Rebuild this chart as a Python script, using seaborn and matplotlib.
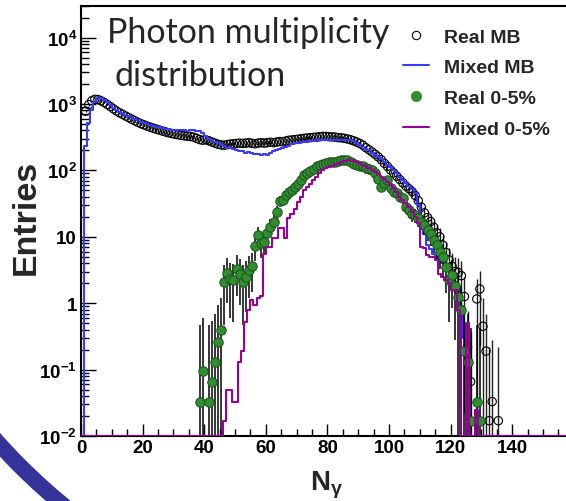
import numpy as np
import pandas as pd
import matplotlib
matplotlib.use("Agg")
import matplotlib.pyplot as plt
import seaborn as sns
from matplotlib.ticker import FixedLocator, FixedFormatter, MultipleLocator, LogLocator, NullFormatter
from matplotlib.patches import Arc
from matplotlib.lines import Line2D
from matplotlib.font_manager import FontProperties

# ---------------- data ----------------
# bin contents, integer bins of width 1 (bin i covers [i, i+1))
real_mb_start = 1
real_mb = [780, 980, 1120, 1180, 1170, 1120, 1060, 990, 920, 850,
           790, 740, 700, 660, 625, 590, 560, 530, 505, 485,
           465, 448, 432, 418, 405, 392, 380, 368, 360, 352,
           345, 338, 332, 328, 325, 318, 305, 292, 285, 290,
           280, 268, 258, 248, 242, 240, 245, 250, 252, 255,
           258, 255, 258, 262, 256, 252, 258, 262, 258, 262,
           266, 262, 268, 272, 270, 278, 285, 288, 292, 296,
           300, 305, 308, 312, 315, 318, 322, 326, 325, 322,
           320, 318, 312, 310, 305, 298, 290, 280, 268, 255,
           240, 220, 205, 190, 175, 160, 145, 128, 115, 102,
           92, 82, 73, 65, 58, 53, 48, 42, 35, 28,
           23, 19.5, 17, 14, 11.5, 10, 7.5, 5.8, 4.5, 3.6,
           3.0, 2.9, 2.6, 1.26, 0.22, 0.066, np.nan, 1.16, 1.64, 0.45,
           0.19, 0.017, 0.033, np.nan, 0.017]

mixed_mb_start = 0
mixed_mb = [0,
            230, 515, 815, 1090, 1230, 1230, 1150, 1060, 960, 880,
            820, 770, 720, 690, 660, 630, 600, 570, 545, 520,
            500, 482, 468, 455, 445, 435, 425, 418, 412, 410,
            408, 405, 400, 398, 400, 405, 395, 390, 370, 330,
            300, 285, 268, 255, 240, 230, 220, 215, 210, 205,
            198, 193, 185, 188, 184, 180, 175, 172, 175, 168,
            182, 195, 200, 210, 218, 225, 235, 248, 255, 262,
            268, 270, 275, 280, 282, 285, 288, 290, 290, 292,
            290, 288, 292, 290, 288, 290, 285, 278, 262, 245,
            228, 212, 200, 185, 172, 160, 148, 135, 122, 112,
            100, 90, 80, 72, 64, 58, 52, 45, 30, 16,
            11, 7.6, 6.5, 5.5, 5.0, 4.5, 4.0, 3.5, 3.2, 2.6,
            2.1, 1.8, 0.9, 0.3]

real_cent_start = 38
real_cent = [0.033, 0.095, np.nan, 0.033, 0.066, 0.13, 0.26, 0.40,
             2.1, 2.9, 2.3, 2.2, 3.3, 2.8, 2.1, 2.5, 3.2, 3.6,
             7.3, 10.7, 8.0, 8.5, 11.5, 14.3, 17, 24, 35, 36,
             42, 48, 50, 57, 63, 72, 86, 91, 97, 105,
             115, 120, 125, 129, 132, 135, 136, 140, 142, 145,
             143, 135, 125, 122, 118, 115, 108, 105, 102, 90,
             75, 57, 65, 72, 55, 48, 45, 40, 38, 28,
             25, 22, 21.5, 19, 17, 15, 12.7, 11, 9, 7.5,
             6, 5, 3.5, 2.2, 2.7, 1.8, 1.26, 0.79, 0.19, 0.13,
             0.017, np.nan, 0.033, 0.017]

mixed_cent_start = 46
mixed_cent = [0.017, 0.05, 0.05, 0.033, 0.033, 0.13, 0.19, 0.53, 0.79, 1.1,
              0.95, 1.2, 1.3, 5.5, 7.1, 7.1, 9.5, 9.5, 13.5, 13.5,
              9.5, 19, 22, 26, 33, 40, 50, 56, 63, 72,
              80, 92, 100, 108, 112, 118, 125, 130, 136, 140,
              143, 145, 140, 135, 129, 122, 115, 110, 100, 95,
              88, 80, 75, 68, 61, 55, 48, 40, 36, 32,
              28, 24, 20, 16, 7.1, 6.7, 5.3, 5.0, 5.0,
              4.5, 2.8, 2.5, 2.2, 2.0, 1.6, 1.6, 0.8, 0, 0,
              0.5, 0, 0, 0.025, 0]

series_labels = ["Real MB", "Mixed MB", "Real 0-5%", "Mixed 0-5%"]
x_tick_values = [0, 20, 40, 60, 80, 100, 120, 140]
y_tick_values = [1e-2, 1e-1, 1, 10, 1e2, 1e3, 1e4]
y_tick_labels = [r"$10^{-2}$", r"$10^{-1}$", "1", "10", r"$10^{2}$", r"$10^{3}$", r"$10^{4}$"]
title_lines = ["Photon multiplicity", "distribution"]

# ---------------- style ----------------
W, H = 566, 502
NB = 160
XMAX = 160
YMIN, YMAX = 1e-2, 3.0e4

sns.set_style("ticks")
plt.rcParams["font.family"] = ["Liberation Sans", "DejaVu Sans"]
plt.rcParams["font.weight"] = "bold"
plt.rcParams["mathtext.fontset"] = "custom"
plt.rcParams["mathtext.rm"] = "Liberation Sans:bold"
plt.rcParams["mathtext.it"] = "Liberation Sans:bold"
plt.rcParams["mathtext.bf"] = "Liberation Sans:bold"
plt.rcParams["mathtext.default"] = "rm"

BLUE = "#3a3aff"
PURPLE = "#990099"
GREEN = "#2f8f2f"
GREEN_EDGE = "#1d4d1d"

fig = plt.figure(figsize=(W / 100, H / 100), dpi=100)
fig.patch.set_facecolor("white")

ax_left, ax_bottom = 81, 65
ax_w = 3.08 * XMAX
ax_h = 430
ax = fig.add_axes([ax_left / W, ax_bottom / H, ax_w / W, ax_h / H])
ax.set_facecolor("none")


def full_hist(start, vals):
    arr = np.zeros(NB)
    v = np.nan_to_num(np.asarray(vals, dtype=float), nan=0.0)
    arr[start:start + len(v)] = v
    return arr


def step_frame(start, vals):
    h = full_hist(start, vals)
    h = np.where(h > 0, h, YMIN)
    edges = np.arange(NB + 1)
    y = np.append(h, h[-1])
    return pd.DataFrame({"x": edges, "y": y})


def point_frame(start, vals, c):
    v = np.asarray(vals, dtype=float)
    n = np.arange(start, start + len(v))
    df = pd.DataFrame({"x": n + 0.5, "y": v}).dropna()
    err = np.sqrt(1.2 * df["y"].values + c)
    lo = np.minimum(err, df["y"].values - 1e-4)
    df["lo"] = lo
    df["hi"] = err
    return df


mb_pts = point_frame(real_mb_start, real_mb, 0.02)
cent_pts = point_frame(real_cent_start, real_cent, 0.15)

# Real MB: open circles with error bars
ax.errorbar(mb_pts["x"], mb_pts["y"], yerr=[mb_pts["lo"], mb_pts["hi"]],
            fmt="none", ecolor="#222222", elinewidth=1.0, capsize=0, zorder=2)
sns.scatterplot(data=mb_pts, x="x", y="y", ax=ax, marker="o", s=36,
                facecolor="none", edgecolor="black", linewidth=0.8, zorder=3)

# Mixed MB: blue step histogram
sns.lineplot(data=step_frame(mixed_mb_start, mixed_mb), x="x", y="y", ax=ax,
             drawstyle="steps-post", color=BLUE, linewidth=1.5, estimator=None,
             sort=False, zorder=4)

# Real 0-5%: green filled circles with error bars
ax.errorbar(cent_pts["x"], cent_pts["y"], yerr=[cent_pts["lo"], cent_pts["hi"]],
            fmt="none", ecolor="black", elinewidth=1.1, capsize=0, zorder=5)
sns.scatterplot(data=cent_pts, x="x", y="y", ax=ax, marker="o", s=46,
                color=GREEN, edgecolor=GREEN_EDGE, linewidth=0.7, zorder=6)

# Mixed 0-5%: purple step histogram
sns.lineplot(data=step_frame(mixed_cent_start, mixed_cent), x="x", y="y", ax=ax,
             drawstyle="steps-post", color=PURPLE, linewidth=1.5, estimator=None,
             sort=False, zorder=7)

# ---------------- axes ----------------
ax.set_yscale("log")
ax.set_xlim(0, XMAX)
ax.set_ylim(YMIN, YMAX)
ax.xaxis.set_major_locator(FixedLocator(x_tick_values))
ax.xaxis.set_minor_locator(MultipleLocator(5))
ax.yaxis.set_major_locator(FixedLocator(y_tick_values))
ax.yaxis.set_major_formatter(FixedFormatter(y_tick_labels))
ax.yaxis.set_minor_locator(LogLocator(base=10, subs=np.arange(2, 10), numticks=20))
ax.yaxis.set_minor_formatter(NullFormatter())
ax.tick_params(axis="both", which="both", direction="in", top=False, right=False,
               labelsize=13.5, colors="black", width=1.0)
ax.tick_params(axis="y", which="major", length=11, pad=3)
ax.tick_params(axis="y", which="minor", length=6)
ax.tick_params(axis="x", which="major", length=9, pad=2)
ax.tick_params(axis="x", which="minor", length=4.7)
for sp in ["left", "bottom", "top"]:
    ax.spines[sp].set_linewidth(1.5)
    ax.spines[sp].set_color("black")
ax.spines["right"].set_visible(False)

ax.set_xlabel(r"N$_{\gamma}$", fontsize=20, fontweight="bold")
ax.xaxis.set_label_coords((327 - ax_left) / ax_w, -0.075)
ax.set_ylabel("Entries", fontsize=24.5, fontweight="bold")
ax.yaxis.set_label_coords(-0.08, 0.51)

# ---------------- legend ----------------
handles = [
    Line2D([], [], ls="none", marker="o", ms=6, mfc="none", mec="black", mew=0.8),
    Line2D([], [], color=BLUE, lw=1.5),
    Line2D([], [], ls="none", marker="o", ms=7.5, mfc=GREEN, mec=GREEN, mew=0.5),
    Line2D([], [], color=PURPLE, lw=1.5),
]
ax.legend(handles, series_labels, loc="upper left",
          bbox_to_anchor=(403 / W, 1 - 29 / H), bbox_transform=fig.transFigure,
          frameon=False, borderpad=0, borderaxespad=0, handlelength=1.35,
          handletextpad=0.75, labelspacing=0.67,
          prop=FontProperties(family="Liberation Sans", weight="bold", size=14))

# ---------------- title text ----------------
fig.text(107 / W, 1 - 43 / H, title_lines[0], family="Lato", fontweight="normal",
         fontsize=24.5, ha="left", va="baseline")
fig.text(115 / W, 1 - 86 / H, title_lines[1], family="Lato", fontweight="normal",
         fontsize=24.5, ha="left", va="baseline")

# ---------------- slide decoration arc ----------------
arc = Arc((4.49, 4.645), 12.14, 12.14, theta1=212, theta2=238,
          transform=fig.dpi_scale_trans, color="#333399", linewidth=11.5, zorder=0)
fig.add_artist(arc)

fig.savefig("out.png", dpi=100)
